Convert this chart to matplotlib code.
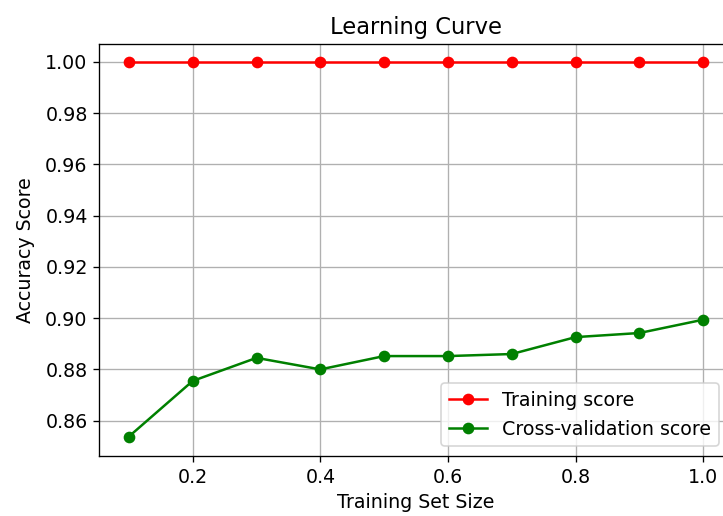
import matplotlib
matplotlib.use("Agg")
import matplotlib.pyplot as plt
import numpy as np

# training set fractions and scores
train_sizes = [0.1, 0.2, 0.3, 0.4, 0.5, 0.6, 0.7, 0.8, 0.9, 1.0]
train_scores = [1.0, 1.0, 1.0, 1.0, 1.0, 1.0, 1.0, 1.0, 1.0, 1.0]
cv_scores = [0.8538, 0.8755, 0.8845, 0.8800, 0.8852, 0.8852, 0.8860, 0.8926, 0.8942, 0.8994]

plt.rcParams['font.size'] = 11.4
plt.rcParams['axes.titlesize'] = 13.6

dpi = 120
fig = plt.figure(figsize=(723 / dpi, 516 / dpi), dpi=dpi)
# axes runs a little past the right edge, like the cropped original
ax = fig.add_axes([99.3 / 723, 60 / 516, 633.5 / 723, 412 / 516])

ax.plot(train_sizes, train_scores, 'o-', color='r', label='Training score')
ax.plot(train_sizes, cv_scores, 'o-', color='g', label='Cross-validation score')

ax.set_title('Learning Curve')
ax.set_xlabel('Training Set Size')
ax.set_ylabel('Accuracy Score', labelpad=6)
ax.set_xlim(0.0536, 1.0464)
ax.set_ylim(0.8462, 1.0070)
ax.grid(True)
ax.legend(loc='lower right', bbox_to_anchor=(0.978, 0.024), borderaxespad=0)

fig.savefig('out.png', dpi=dpi)
